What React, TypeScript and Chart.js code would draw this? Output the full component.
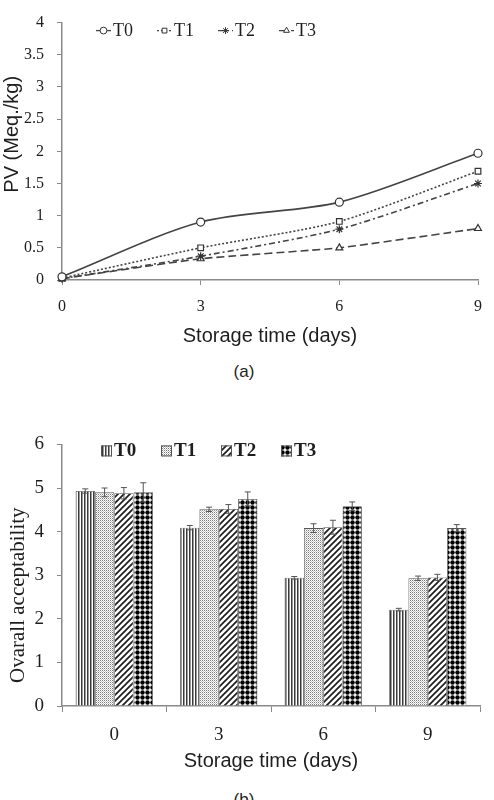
import React, { useEffect, useRef } from 'react';
import { Chart, registerables } from 'chart.js';
import { drawPoint } from 'chart.js/helpers';

Chart.register(...registerables);

// ---------- data ----------
const days = ['0', '3', '6', '9'];
const treatments = ['T0', 'T1', 'T2', 'T3'];

// (a) Peroxide value (Meq./kg)
const pvT0 = [0.05, 0.9, 1.21, 1.97];
const pvT1 = [0.03, 0.5, 0.91, 1.69];
const pvT2 = [0.02, 0.37, 0.79, 1.5];
const pvT3 = [0.02, 0.33, 0.5, 0.8];

// (b) Overall acceptability
const oaT0 = [4.93, 4.09, 2.94, 2.21];
const oaT1 = [4.9, 4.51, 4.08, 2.93];
const oaT2 = [4.88, 4.52, 4.1, 2.95];
const oaT3 = [4.9, 4.75, 4.58, 4.08];
const oaErrT0 = [0.05, 0.05, 0.03, 0.03];
const oaErrT1 = [0.1, 0.05, 0.1, 0.05];
const oaErrT2 = [0.13, 0.1, 0.16, 0.07];
const oaErrT3 = [0.22, 0.16, 0.1, 0.08];

const titleA = 'PV (Meq./kg)';
const titleB = 'Ovarall acceptability';
const xTitle = 'Storage time (days)';

const SERIF = '"Liberation Serif", "Times New Roman", serif';
const SANS = '"Liberation Sans", Arial, sans-serif';
const AXIS = '#8a8a8a';
const INK = '#1e1e1e';

// ---------- patterns ----------
function tile(w: number, h: number, paint: (c: CanvasRenderingContext2D) => void) {
  const cv = document.createElement('canvas');
  cv.width = w;
  cv.height = h;
  const c = cv.getContext('2d')!;
  c.fillStyle = '#fff';
  c.fillRect(0, 0, w, h);
  paint(c);
  return c.createPattern(cv, 'repeat')!;
}

function makePatterns() {
  const stripes = tile(3, 4, (c) => {
    c.fillStyle = '#3a3a3a';
    c.fillRect(0, 0, 1, 4);
    c.fillStyle = '#9a9a9a';
    c.fillRect(1, 0, 1, 4);
  });
  const dots = tile(2, 2, (c) => {
    c.fillStyle = '#7a7a7a';
    c.fillRect(0, 0, 1, 1);
    c.fillStyle = '#c4c4c4';
    c.fillRect(1, 1, 1, 1);
  });
  const hatch = tile(6, 6, (c) => {
    c.strokeStyle = '#1e1e1e';
    c.lineWidth = 1.7;
    c.beginPath();
    c.moveTo(-1, 1); c.lineTo(1, -1);
    c.moveTo(0, 6); c.lineTo(6, 0);
    c.moveTo(5, 7); c.lineTo(7, 5);
    c.stroke();
  });
  const bigDots = tile(5, 5, (c) => {
    c.fillStyle = '#000';
    c.beginPath();
    c.arc(2.5, 2.5, 2.25, 0, Math.PI * 2);
    c.fill();
  });
  return [stripes, dots, hatch, bigDots];
}

// ---------- plugins ----------
const lineLegend = {
  id: 'lineLegend',
  afterDraw(chart: any) {
    const { ctx, chartArea } = chart;
    ctx.save();
    chart.data.datasets.forEach((ds: any, i: number) => {
      const x = chartArea.left + 34 + i * 61;
      const y = chartArea.top + 8;
      ctx.strokeStyle = ds.borderColor;
      ctx.lineWidth = 1.3;
      ctx.setLineDash(ds.borderDash || []);
      ctx.beginPath();
      ctx.moveTo(x, y);
      ctx.lineTo(x + 15, y);
      ctx.stroke();
      ctx.setLineDash([]);
      ctx.fillStyle = '#fff';
      ctx.strokeStyle = ds.pointBorderColor;
      ctx.lineWidth = 1;
      drawPoint(ctx, { pointStyle: ds.pointStyle, radius: 3.4, rotation: 0, borderWidth: 1 }, x + 7.5, y);
      ctx.fillStyle = INK;
      ctx.font = `18px ${SERIF}`;
      ctx.textAlign = 'left';
      ctx.textBaseline = 'middle';
      ctx.fillText(ds.label, x + 17, y + 1);
    });
    ctx.restore();
  },
};

const barLegend = {
  id: 'barLegend',
  afterDraw(chart: any) {
    const { ctx, chartArea } = chart;
    ctx.save();
    chart.data.datasets.forEach((ds: any, i: number) => {
      const x = chartArea.left + 39 + i * 60;
      const y = chartArea.top + 6;
      ctx.fillStyle = ds.backgroundColor;
      ctx.fillRect(x, y - 5, 11, 11);
      ctx.strokeStyle = '#555';
      ctx.lineWidth = 1;
      ctx.strokeRect(x + 0.5, y - 4.5, 10, 10);
      ctx.fillStyle = INK;
      ctx.font = `bold 19px ${SERIF}`;
      ctx.textAlign = 'left';
      ctx.textBaseline = 'middle';
      ctx.fillText(ds.label, x + 13, y + 1);
    });
    ctx.restore();
  },
};

const errorBars = {
  id: 'errorBars',
  afterDatasetsDraw(chart: any) {
    const { ctx } = chart;
    const yScale = chart.scales.y;
    ctx.save();
    ctx.strokeStyle = '#555';
    ctx.lineWidth = 1;
    chart.data.datasets.forEach((ds: any, i: number) => {
      const meta = chart.getDatasetMeta(i);
      meta.data.forEach((bar: any, j: number) => {
        const v = ds.data[j];
        const e = ds.errors[j];
        const yt = yScale.getPixelForValue(v + e);
        const yb = yScale.getPixelForValue(v - e);
        const x = bar.x;
        ctx.beginPath();
        ctx.moveTo(x, yt); ctx.lineTo(x, yb);
        ctx.moveTo(x - 3, yt); ctx.lineTo(x + 3, yt);
        ctx.moveTo(x - 3, yb); ctx.lineTo(x + 3, yb);
        ctx.stroke();
      });
    });
    ctx.restore();
  },
};

const sideTitle = {
  id: 'sideTitle',
  afterDraw(chart: any, _args: any, opts: any) {
    const { ctx, chartArea } = chart;
    ctx.save();
    ctx.translate(opts.x, (chartArea.top + chartArea.bottom) / 2 + opts.shift);
    ctx.rotate(-Math.PI / 2);
    ctx.fillStyle = INK;
    ctx.font = opts.font;
    ctx.textAlign = 'center';
    ctx.textBaseline = 'middle';
    ctx.fillText(opts.text, 0, 0);
    ctx.restore();
  },
};

// ---------- component ----------
export default function App() {
  const refA = useRef<HTMLCanvasElement>(null);
  const refB = useRef<HTMLCanvasElement>(null);

  useEffect(() => {
    const lineColor = '#444';
    const mkLine = (label: string, data: number[], dash: number[], style: string, tension: number) => ({
      label,
      data,
      borderColor: lineColor,
      borderWidth: 1.6,
      borderDash: dash,
      pointStyle: style,
      pointRadius: 4,
      pointBackgroundColor: '#fff',
      pointBorderColor: '#333',
      pointBorderWidth: 1.2,
      tension,
      clip: false,
      fill: false,
    });

    const chartA = new Chart(refA.current!, {
      type: 'line',
      data: {
        labels: days,
        datasets: [
          mkLine(treatments[0], pvT0, [], 'circle', 0.3),
          mkLine(treatments[1], pvT1, [2, 2], 'rect', 0.25),
          mkLine(treatments[2], pvT2, [6, 3, 2, 3], 'star', 0.25),
          mkLine(treatments[3], pvT3, [8, 4], 'triangle', 0.15),
        ] as any,
      },
      options: {
        responsive: false,
        animation: false,
        layout: { padding: { top: 15, right: 11, left: 0, bottom: 0 } },
        plugins: {
          legend: { display: false },
          tooltip: { enabled: false },
          sideTitle: { text: titleA, x: 12, shift: -17, font: `20px ${SANS}` },
        } as any,
        scales: {
          x: {
            type: 'category',
            offset: false,
            grid: { drawOnChartArea: false, tickLength: 5, color: AXIS, offset: false },
            border: { color: AXIS, width: 1.5 },
            ticks: { font: { family: SERIF, size: 16 }, color: INK, padding: 12, maxRotation: 0 },
            title: {
              display: true,
              text: xTitle,
              font: { family: SANS, size: 20 },
              color: INK,
              padding: { top: 0, bottom: 7 },
            },
            afterFit: (s: any) => { s.height = 75; },
          },
          y: {
            min: 0,
            max: 4,
            ticks: {
              stepSize: 0.5,
              font: { family: SERIF, size: 16 },
              color: INK,
              padding: 13,
              callback: (v: any) => String(v),
            },
            grid: { drawOnChartArea: false, tickLength: 5, color: AXIS },
            border: { color: AXIS, width: 1.5 },
            afterFit: (s: any) => { s.width = 62; },
          },
        },
      } as any,
      plugins: [lineLegend, sideTitle],
    });

    const pats = makePatterns();
    const mkBar = (i: number, data: number[], errors: number[]) => ({
      label: treatments[i],
      data,
      errors,
      backgroundColor: pats[i],
      borderColor: '#555',
      borderWidth: 0.8,
      categoryPercentage: 0.74,
      barPercentage: 1,
    });

    const chartB = new Chart(refB.current!, {
      type: 'bar',
      data: {
        labels: days,
        datasets: [
          mkBar(0, oaT0, oaErrT0),
          mkBar(1, oaT1, oaErrT1),
          mkBar(2, oaT2, oaErrT2),
          mkBar(3, oaT3, oaErrT3),
        ] as any,
      },
      options: {
        responsive: false,
        animation: false,
        layout: { padding: { top: 22, right: 14, left: 0, bottom: 0 } },
        plugins: {
          legend: { display: false },
          tooltip: { enabled: false },
          sideTitle: { text: titleB, x: 18, shift: 20, font: `21px ${SERIF}` },
        } as any,
        scales: {
          x: {
            grid: { drawOnChartArea: false, tickLength: 6, color: AXIS, offset: true },
            border: { color: AXIS, width: 1.5 },
            ticks: { font: { family: SERIF, size: 19 }, color: INK, padding: 12, maxRotation: 0 },
            title: {
              display: true,
              text: xTitle,
              font: { family: SANS, size: 20 },
              color: INK,
              padding: { top: 0, bottom: 7 },
            },
            afterFit: (s: any) => { s.height = 74; },
          },
          y: {
            min: 0,
            max: 6,
            ticks: { stepSize: 1, font: { family: SERIF, size: 19 }, color: INK, padding: 13 },
            grid: { drawOnChartArea: false, tickLength: 5, color: AXIS },
            border: { color: AXIS, width: 1.5 },
            afterFit: (s: any) => { s.width = 62; },
          },
        },
      } as any,
      plugins: [errorBars, barLegend, sideTitle],
    });

    return () => {
      chartA.destroy();
      chartB.destroy();
    };
  }, []);

  const cap: React.CSSProperties = {
    position: 'absolute',
    left: 0,
    width: 488,
    textAlign: 'center',
    font: `17px ${SANS}`,
    color: INK,
    lineHeight: '20px',
  };

  return (
    <div style={{ position: 'absolute', left: 0, top: 0, width: 494, height: 800, background: '#fff', overflow: 'hidden' }}>
      <canvas ref={refA} width={494} height={355} style={{ position: 'absolute', left: 0, top: 0, width: 494, height: 355 }} />
      <div style={{ ...cap, top: 362 }}>(a)</div>
      <canvas ref={refB} width={494} height={360} style={{ position: 'absolute', left: 0, top: 420, width: 494, height: 360 }} />
      <div style={{ ...cap, top: 790 }}>(b)</div>
    </div>
  );
}
